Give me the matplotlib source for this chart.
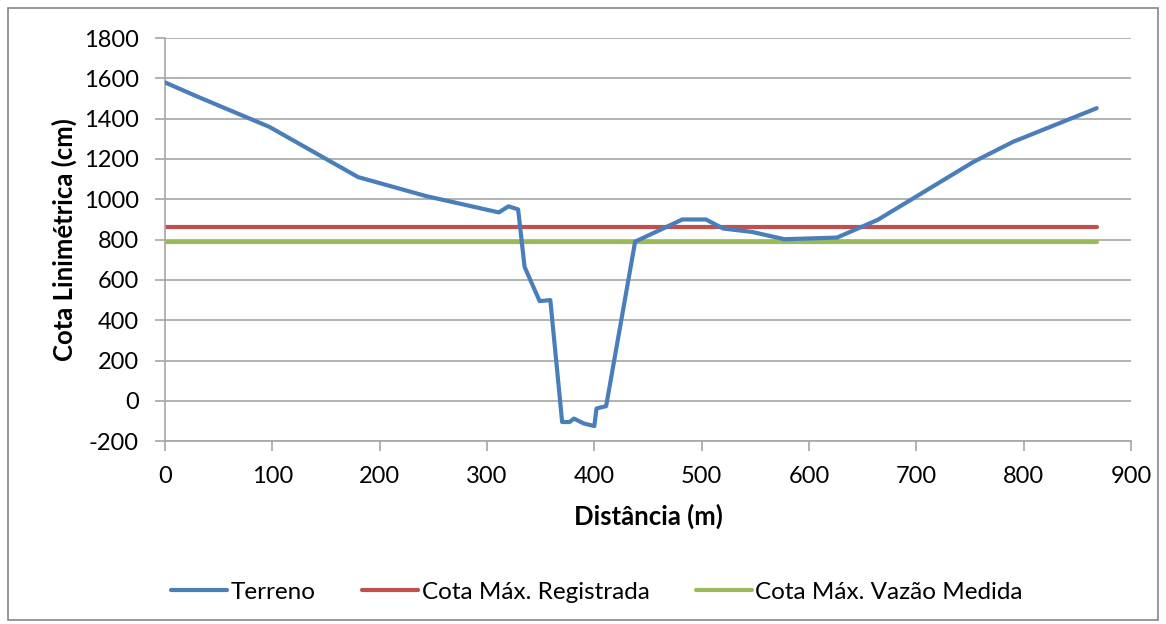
import matplotlib.pyplot as plt
from matplotlib.patches import Rectangle

# Terrain profile
distancia = [0, 30, 97, 180, 244, 311, 320, 329, 335, 349, 359, 370, 377, 381,
             390, 400, 402, 411, 438, 482, 504, 520, 547, 577, 626, 664, 753,
             790, 868]
terreno = [1580, 1510, 1360, 1110, 1015, 935, 965, 950, 665, 495, 500, -105,
           -105, -88, -112, -125, -38, -26, 790, 900, 900, 855, 838, 802, 810,
           898, 1185, 1285, 1452]

# Horizontal reference levels
linha_x = [0, 868]
cota_max_registrada = 862
cota_max_vazao = 787

plt.rcParams["font.family"] = ["Lato", "DejaVu Sans"]
plt.rcParams["axes.unicode_minus"] = False

fig = plt.figure(figsize=(11.66, 6.24), dpi=100)
ax = fig.add_axes([0.1415, 0.293, 0.8285, 0.646])

ax.plot(distancia, terreno, color="#4a7ebb", lw=3, label="Terreno", zorder=3,
        solid_joinstyle="round", solid_capstyle="round")
ax.plot(linha_x, [cota_max_registrada] * 2, color="#c0504d", lw=3,
        label="Cota Máx. Registrada", zorder=2, solid_capstyle="round")
ax.plot(linha_x, [cota_max_vazao] * 2, color="#9bbb59", lw=3,
        label="Cota Máx. Vazão Medida", zorder=2, solid_capstyle="round")

ax.set_xlim(0, 900)
ax.set_ylim(-200, 1800)
ax.set_xticks(range(0, 901, 100))
ax.set_yticks(range(-200, 1801, 200))
ax.yaxis.grid(True, color="#a6a6a6", lw=1.2)
ax.set_axisbelow(True)

for s in ["top", "right"]:
    ax.spines[s].set_visible(False)
for s in ["left", "bottom"]:
    ax.spines[s].set_color("#a6a6a6")
    ax.spines[s].set_linewidth(1.2)
ax.tick_params(axis="both", colors="#a6a6a6", length=7, width=1.2,
               labelsize=17, labelcolor="black")
ax.tick_params(axis="x", pad=11)
ax.tick_params(axis="y", pad=12)

ax.set_xlabel("Distância (m)", fontsize=18.5, fontweight="bold", labelpad=12)
ax.set_ylabel("Cota Linimétrica (cm)", fontsize=18.5, fontweight="bold", labelpad=5)

fig.legend(loc="center", bbox_to_anchor=(0.512, 0.051), ncol=3, frameon=False,
           fontsize=17.5, handlelength=2.3, handletextpad=0.15, columnspacing=1.9)

fig.patches.append(Rectangle((8 / 1166, 4 / 624), 1150 / 1166, 612 / 624,
                             transform=fig.transFigure, fill=False,
                             edgecolor="#868686", lw=1.2))

fig.savefig("out.png", dpi=100)
